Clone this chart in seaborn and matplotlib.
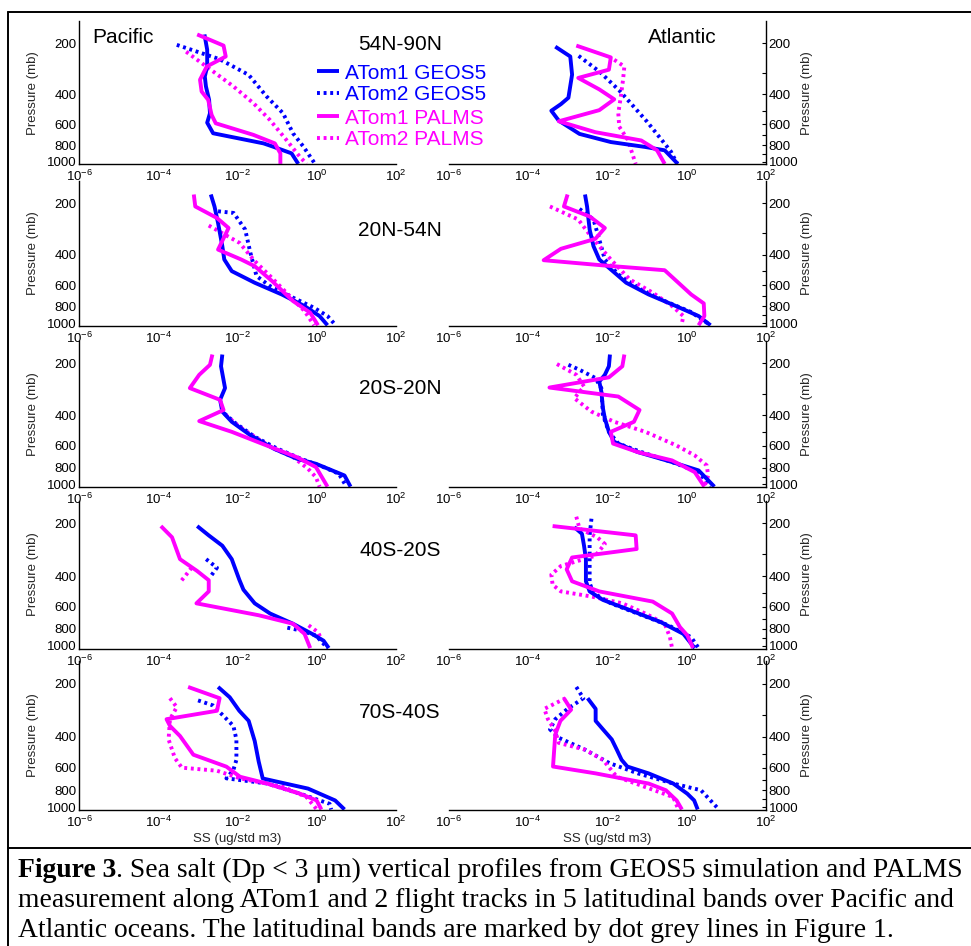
import numpy as np
import pandas as pd
import matplotlib
matplotlib.use("Agg")
import matplotlib.pyplot as plt
import seaborn as sns
from matplotlib.lines import Line2D
from matplotlib.ticker import (FixedLocator, FixedFormatter, NullLocator,
                               NullFormatter, LogFormatterSciNotation)

# ---------------- data ----------------
REGIONS = ["54N-90N", "20N-54N", "20S-20N", "40S-20S", "70S-40S"]
OCEANS = ["Pacific", "Atlantic"]
SERIES = ["ATom1 GEOS5", "ATom2 GEOS5", "ATom1 PALMS", "ATom2 PALMS"]
SERIES_COLORS = ["#0000FF", "#0000FF", "#FF00FF", "#FF00FF"]
SERIES_SOLID = [True, False, True, False]
XTICKS = [1e-6, 1e-4, 1e-2, 1e0, 1e2]
YTICKS = [200, 400, 600, 800, 1000]
YTICK_LABELS = ["200", "400", "600", "800", "1000"]
YMINOR = [300, 500, 700, 900]

# (pressure [mb], sea salt [ug/std m3]); None marks a gap in the profile
PAC_54N90N_A1G = [(178,1.45e-3),(219,1.7e-3),(275,1.7e-3),(315,1.48e-3),(360,1.58e-3),(432,1.9e-3),(518,2.0e-3),(589,1.7e-3),(680,2.4e-3),(780,4.5e-2),(816,7.9e-2),(893,0.23),(1030,0.34)]
PAC_54N90N_A2G = [(205,2.9e-4),(249,3.5e-3),(308,1.9e-2),(413,5.4e-2),(518,0.14),(680,0.25),(816,0.46),(1030,0.9)]
PAC_54N90N_A1P = [(178,9.5e-4),(207,4.4e-3),(240,5.0e-3),(275,1.66e-3),(329,1.12e-3),(386,1.23e-3),(432,1.8e-3),(530,2.2e-3),(594,2.8e-3),(695,2.5e-2),(780,8.7e-2),(893,0.12),(1030,0.12)]
PAC_54N90N_A2P = [(225,5.0e-4),(294,2.4e-3),(360,7.8e-3),(452,2.5e-2),(567,6.5e-2),(744,0.17),(934,0.37),(1030,0.55)]

ATL_54N90N_A1G = [(210,4.9e-4),(240,1.17e-3),(307,1.3e-3),(420,1.05e-3),(458,6.8e-4),(501,3.9e-4),(573,6.0e-4),(686,2.0e-3),(766,1.23e-2),(819,9.1e-2),(857,0.28),(1030,0.60)]
ATL_54N90N_A2G = [(238,1.9e-3),(294,6.3e-3),(380,2.0e-2),(470,4.5e-2),(580,0.10),(730,0.22),(870,0.40),(1030,0.58)]
ATL_54N90N_A1P = [(207,1.66e-3),(243,1.23e-2),(287,1.1e-2),(321,1.86e-3),(375,6.3e-3),(429,1.5e-2),(497,6.3e-3),(578,6.0e-4),(670,5.0e-3),(750,7.2e-2),(857,0.18),(1030,0.28)]
ATL_54N90N_A2P = [(251,1.5e-2),(275,2.7e-2),(329,2.5e-2),(413,2.2e-2),(518,1.9e-2),(621,2.0e-2),(744,3.3e-2),(1030,5.2e-2)]

PAC_20N54N_A1G = [(178,2.1e-3),(209,2.6e-3),(261,3.2e-3),(356,4.1e-3),(426,4.6e-3),(498,7.1e-3),(582,2.7e-2),(681,0.13),(796,0.49),(910,1.17),(1030,1.86)]
PAC_20N54N_A2G = [(223,3.2e-3),(228,7.9e-3),(285,1.55e-2),(390,2.1e-2),(532,3.0e-2),(609,6.6e-2),(711,0.25),(814,0.85),(910,1.86),(1030,3.0)]
PAC_20N54N_A1P = [(178,7.8e-4),(209,8.5e-4),(244,3.0e-3),(279,5.9e-3),(373,3.2e-3),(426,1.23e-2),(466,2.7e-2),(569,7.4e-2),(744,0.25),(870,0.68),(1030,1.07)]
PAC_20N54N_A2P = [(270,1.86e-3),(341,1.12e-2),(435,2.7e-2),(532,6.6e-2),(728,0.25),(851,0.49),(1030,0.85)]

ATL_20N54N_A1G = [(178,2.75e-3),(209,3.1e-3),(285,3.6e-3),(356,4.5e-3),(426,6.3e-3),(487,1.23e-2),(582,3.0e-2),(681,0.11),(796,0.54),(910,2.0),(1030,4.0)]
ATL_20N54N_A2G = [(216,2.0e-3),(249,4.5e-3),(326,6.3e-3),(426,8.7e-3),(521,1.9e-2),(637,7.2e-2),(744,0.28),(863,1.3),(1030,4.0)]
ATL_20N54N_A1P = [(178,1.0e-3),(209,8.1e-4),(239,3.6e-3),(279,8.7e-3),(323,5.0e-3),(369,6.8e-4),(430,2.5e-4),(462,8.7e-3),(492,0.28),(681,1.3),(768,2.7),(910,2.8),(1030,2.0)]
ATL_20N54N_A2P = [(209,3.6e-4),(249,1.86e-3),(305,3.6e-3),(356,6.3e-3),(426,1.23e-2),(557,3.7e-2),(665,0.14),(796,0.43),(910,0.83),(1030,0.74)]

PAC_20S20N_A1G = [(178,4.1e-3),(208,3.8e-3),(278,4.8e-3),(325,3.6e-3),(380,4.1e-3),(435,7.1e-3),(520,2.1e-2),(621,8.1e-2),(710,0.31),(760,0.95),(888,5.0),(1030,7.1)]
PAC_20S20N_A2G = [(389,4.6e-3),(444,8.9e-3),(531,2.7e-2),(621,0.10),(710,0.39),(794,1.48),(868,3.6),(1030,5.6)]
PAC_20S20N_A1P = [(178,2.3e-3),(204,2.0e-3),(233,1.07e-3),(278,6.2e-4),(325,3.6e-3),(372,4.4e-3),(431,1.07e-3),(497,7.1e-3),(594,5.2e-2),(695,0.31),(794,0.95),(1030,1.86)]
PAC_20S20N_A2P = [(397,5.0e-3),(465,1.1e-2),(531,2.7e-2),(621,8.1e-2),(695,0.25),(812,0.60),(908,0.95),(1030,1.17)]

ATL_20S20N_A1G = [(178,1.17e-2),(208,1.1e-2),(233,8.7e-3),(255,6.3e-3),(291,7.1e-3),(364,7.8e-3),(416,8.7e-3),(497,1.1e-2),(568,1.5e-2),(650,5.8e-2),(743,0.43),(830,2.0),(1030,5.0)]
ATL_20S20N_A2G = [(204,1.05e-3),(218,2.0e-3),(243,5.0e-3),(278,7.1e-3),(398,7.8e-3),(497,1.1e-2),(581,1.9e-2),(650,7.2e-2),(743,0.43),(849,2.0),(1030,4.0)]
ATL_20S20N_A1P = [(178,2.7e-2),(208,2.4e-2),(241,1.1e-2),(276,3.5e-4),(311,1.9e-2),(372,6.5e-2),(435,4.7e-2),(497,1.23e-2),(581,1.4e-2),(650,5.8e-2),(727,0.43),(849,1.6),(1030,2.8)]
ATL_20S20N_A2P = [(202,5.4e-4),(233,1.66e-3),(272,2.6e-3),(318,1.48e-3),(380,4.0e-3),(435,1.5e-2),(497,9.1e-2),(594,0.54),(680,1.6),(776,3.2),(888,3.5),(1030,2.8)]

PAC_40S20S_A1G = [(207,9.5e-4),(234,1.86e-3),(268,4.1e-3),(320,7.1e-3),(419,1.1e-2),(478,1.4e-2),(572,2.7e-2),(654,6.6e-2),(748,0.25),(855,0.76),(935,1.48),(1030,2.0)]
PAC_40S20S_A2G = [(320,1.6e-3),(358,3.0e-3),(400,2.1e-3),None,(788,0.18),(817,0.39),(874,0.95),(1030,1.86)]
PAC_40S20S_A1P = [(207,1.15e-4),(240,2.2e-4),(320,3.5e-4),(374,9.5e-4),(422,1.86e-3),(489,1.86e-3),(572,9.1e-4),(669,3.4e-2),(748,0.25),(855,0.49),(1030,0.68)]
PAC_40S20S_A2P = [(358,6.9e-4),(400,4.7e-4),(434,3.5e-4),None,(764,0.62),(836,1.07),(893,1.23)]

ATL_40S20S_A1G = [(210,1.48e-3),(229,2.3e-3),(268,2.6e-3),(320,2.9e-3),(428,2.9e-3),(489,3.6e-3),(547,7.8e-3),(625,3.7e-2),(731,0.22),(855,0.83),(1030,1.6)]
ATL_40S20S_A2G = [(188,4.0e-3),(234,3.6e-3),(320,3.6e-3),(438,3.6e-3),(500,4.5e-3),(572,1.23e-2),(654,5.8e-2),(764,0.35),(893,1.3),(1030,2.0)]
ATL_40S20S_A1P = [(207,4.2e-4),(234,5.2e-2),(280,5.5e-2),(313,1.3e-3),(366,9.5e-4),(428,1.3e-3),(489,6.3e-3),(559,0.14),(654,0.43),(782,0.68),(874,1.05),(1030,1.45)]
ATL_40S20S_A2P = [(183,1.66e-3),(214,2.0e-3),(240,5.6e-3),(262,8.7e-3),(306,5.0e-3),(350,6.8e-4),(392,3.9e-4),(448,4.2e-4),(489,6.8e-4),(523,4.0e-3),(572,2.4e-2),(654,9.1e-2),(748,0.28),(893,0.38),(1030,0.43)]

PAC_70S40S_A1G = [(209,3.2e-3),(239,6.3e-3),(285,1.1e-2),(325,1.9e-2),(423,2.7e-2),(552,3.4e-2),(688,4.3e-2),(735,0.16),(785,0.60),(916,2.9),(1030,5.0)]
PAC_70S40S_A2G = [(249,1.0e-3),(266,2.4e-3),(347,7.8e-3),(414,9.3e-3),(540,9.3e-3),(616,7.8e-3),(687,5.2e-3),(734,5.4e-2),(838,0.37),(957,2.1),(1030,2.3)]
PAC_70S40S_A1P = [(209,5.6e-4),(242,3.5e-3),(285,3.0e-3),(318,1.6e-4),(347,1.95e-4),(396,3.5e-4),(505,7.6e-4),(590,5.2e-3),(673,1.15e-2),(734,5.4e-2),(838,0.37),(916,0.99),(1030,1.3)]
PAC_70S40S_A2P = [(242,1.95e-4),(272,2.9e-4),(318,1.95e-4),(414,1.8e-4),(528,2.6e-4),(598,3.9e-4),(622,3.0e-3),(687,1.15e-2),(768,0.14),(877,0.55),(1030,1.0)]

ATL_70S40S_A1G = [(242,3.2e-3),(278,5.1e-3),(325,5.1e-3),(363,7.8e-3),(414,1.3e-2),(473,1.74e-2),(540,2.3e-2),(589,3.2e-2),(644,0.11),(735,0.46),(839,1.04),(916,1.55),(1030,1.9)]
ATL_70S40S_A2G = [(209,1.66e-3),(242,2.5e-3),(278,1.0e-3),(318,4.9e-4),(363,3.6e-4),(405,6.0e-4),(473,2.75e-3),(564,1.15e-2),(644,5.9e-2),(735,0.46),(802,2.3),(1030,6.5)]
ATL_70S40S_A1P = [(242,8.1e-4),(281,1.23e-3),(325,6.6e-4),(388,4.9e-4),(589,4.3e-4),(644,5.1e-3),(735,0.11),(802,0.30),(916,0.56),(1030,0.76)]
ATL_70S40S_A2P = [(242,8.9e-4),(278,2.6e-4),(318,3.2e-4),(371,4.9e-4),(433,6.0e-4),(473,2.75e-3),(540,7.8e-3),(673,1.74e-2),(768,8.9e-2),(877,0.46),(1030,0.62)]

PANELS = {
    ("54N-90N", "Pacific"):  [PAC_54N90N_A1G, PAC_54N90N_A2G, PAC_54N90N_A1P, PAC_54N90N_A2P],
    ("54N-90N", "Atlantic"): [ATL_54N90N_A1G, ATL_54N90N_A2G, ATL_54N90N_A1P, ATL_54N90N_A2P],
    ("20N-54N", "Pacific"):  [PAC_20N54N_A1G, PAC_20N54N_A2G, PAC_20N54N_A1P, PAC_20N54N_A2P],
    ("20N-54N", "Atlantic"): [ATL_20N54N_A1G, ATL_20N54N_A2G, ATL_20N54N_A1P, ATL_20N54N_A2P],
    ("20S-20N", "Pacific"):  [PAC_20S20N_A1G, PAC_20S20N_A2G, PAC_20S20N_A1P, PAC_20S20N_A2P],
    ("20S-20N", "Atlantic"): [ATL_20S20N_A1G, ATL_20S20N_A2G, ATL_20S20N_A1P, ATL_20S20N_A2P],
    ("40S-20S", "Pacific"):  [PAC_40S20S_A1G, PAC_40S20S_A2G, PAC_40S20S_A1P, PAC_40S20S_A2P],
    ("40S-20S", "Atlantic"): [ATL_40S20S_A1G, ATL_40S20S_A2G, ATL_40S20S_A1P, ATL_40S20S_A2P],
    ("70S-40S", "Pacific"):  [PAC_70S40S_A1G, PAC_70S40S_A2G, PAC_70S40S_A1P, PAC_70S40S_A2P],
    ("70S-40S", "Atlantic"): [ATL_70S40S_A1G, ATL_70S40S_A2G, ATL_70S40S_A1P, ATL_70S40S_A2P],
}

rows = []
for (reg, oc), lists in PANELS.items():
    for sname, pts in zip(SERIES, lists):
        seg = 0
        for pt in pts:
            if pt is None:
                seg += 1
                continue
            rows.append(dict(region=reg, ocean=oc, series=sname, seg=seg, p=pt[0], ss=pt[1]))
df = pd.DataFrame(rows)

# ---------------- style ----------------
sns.set_theme(style="white")
plt.rcParams['font.family'] = ['Liberation Sans', 'DejaVu Sans']
plt.rcParams['mathtext.fontset'] = 'custom'
plt.rcParams['mathtext.rm'] = 'Liberation Sans'
plt.rcParams['mathtext.it'] = 'Liberation Sans:italic'
plt.rcParams['mathtext.bf'] = 'Liberation Sans:bold'
plt.rcParams['axes.edgecolor'] = 'black'
plt.rcParams['text.color'] = 'black'
plt.rcParams['xtick.color'] = 'black'
plt.rcParams['ytick.color'] = 'black'

W, H = 971, 946
fig = plt.figure(figsize=(W / 100, H / 100), dpi=100)
fig.patch.set_facecolor('white')

COL_X = [(79.3, 396.0), (448.5, 766.0)]
DRAW_ORDER = [1, 3, 0, 2]
LW = 2.8
DOT = (0, (0.75, 0.95))
TICK_FS = 9.5

handles = {}
axes = {}
for r, reg in enumerate(REGIONS):
    top = 21 + r * 159.9
    bot = 164.3 + r * 161.4
    for c, oc in enumerate(OCEANS):
        x0, x1 = COL_X[c]
        ax = fig.add_axes([x0 / W, 1 - bot / H, (x1 - x0) / W, (bot - top) / H])
        ax.set_facecolor('none')
        axes[(r, c)] = ax
        sub = df[(df.region == reg) & (df.ocean == oc)]
        for si in DRAW_ORDER:
            sname = SERIES[si]
            ser = sub[sub.series == sname]
            for seg, g in ser.groupby('seg'):
                sns.lineplot(data=g, x='ss', y='p', ax=ax, sort=False, estimator=None,
                             color=SERIES_COLORS[si], linewidth=LW,
                             linestyle='-' if SERIES_SOLID[si] else DOT,
                             legend=False)
                line = ax.get_lines()[-1]
                line.set_solid_capstyle('butt')
                line.set_dash_capstyle('butt')
                if r == 0 and c == 0 and sname not in handles:
                    handles[sname] = line

        ax.set_xscale('log')
        ax.set_yscale('log')
        ax.set_xlim(1e-6, 1e2)
        ax.set_ylim(1036, 148.3)
        ax.xaxis.set_major_locator(FixedLocator(XTICKS))
        ax.xaxis.set_minor_locator(NullLocator())
        ax.xaxis.set_major_formatter(LogFormatterSciNotation())
        ax.yaxis.set_major_locator(FixedLocator(YTICKS))
        ax.yaxis.set_major_formatter(FixedFormatter(YTICK_LABELS))
        ax.yaxis.set_minor_locator(FixedLocator(YMINOR))
        ax.yaxis.set_minor_formatter(NullFormatter())
        if c == 1:
            ax.yaxis.tick_right()
            ax.yaxis.set_label_position('right')
        ax.tick_params(which='both', direction='in', length=3.2, width=0.8,
                       labelsize=TICK_FS, color='black')
        ax.tick_params(axis='x', pad=3.5)
        ax.tick_params(axis='y', pad=2)
        for sp in ax.spines.values():
            sp.set_linewidth(1.0)
            sp.set_color('black')
        ax.spines['top'].set_visible(False)
        if c == 0:
            ax.spines['right'].set_visible(False)
        else:
            ax.spines['left'].set_visible(False)
        ax.set_ylabel('Pressure (mb)', fontsize=TICK_FS)
        hpx = bot - top
        if c == 0:
            ax.yaxis.set_label_coords((39 - x0) / (x1 - x0), 0.5)
        else:
            ax.yaxis.set_label_coords((801 - x0) / (x1 - x0), 0.5)
        if r == len(REGIONS) - 1:
            ax.set_xlabel('SS (ug/std m3)', fontsize=TICK_FS)
            ax.xaxis.set_label_coords(0.5, -23 / hpx)
        else:
            ax.set_xlabel('')

# region labels and ocean titles
REGION_BASELINES = [50, 235.5, 394.5, 555.5, 717.5]
for reg, yb in zip(REGIONS, REGION_BASELINES):
    fig.text(400 / W, 1 - yb / H, reg, ha='center', va='baseline', fontsize=15)
fig.text(92 / W, 1 - 43 / H, OCEANS[0], ha='left', va='baseline', fontsize=15)
fig.text(648 / W, 1 - 43 / H, OCEANS[1], ha='left', va='baseline', fontsize=15)

# legend (two blocks)
ax0 = axes[(0, 0)]
leg_kw = dict(loc='upper left', bbox_transform=fig.transFigure, frameon=False,
              fontsize=15, handlelength=1.06, handletextpad=0.29, labelspacing=0.13,
              borderpad=0, borderaxespad=0, labelcolor='linecolor')
leg1 = ax0.legend([handles[SERIES[0]], handles[SERIES[1]]], SERIES[:2],
                  bbox_to_anchor=(317 / W, 1 - 63.6 / H), **leg_kw)
ax0.add_artist(leg1)
leg2 = ax0.legend([handles[SERIES[2]], handles[SERIES[3]]], SERIES[2:],
                  bbox_to_anchor=(317 / W, 1 - 108.6 / H), **leg_kw)

# frame lines
fig.add_artist(Line2D([8 / W, 1], [1 - 12.5 / H] * 2, transform=fig.transFigure, color='black', lw=1.4))
fig.add_artist(Line2D([8 / W, 8 / W], [0, 1 - 12.5 / H], transform=fig.transFigure, color='black', lw=1.4))
fig.add_artist(Line2D([8 / W, 1], [1 - 847.5 / H] * 2, transform=fig.transFigure, color='black', lw=1.4))

# caption
CAP_LINES = [
    [("Figure 3", 'bold'), (". Sea salt (Dp < 3 \u03bcm) vertical profiles from GEOS5 simulation and PALMS", 'normal')],
    [("measurement along ATom1 and 2 flight tracks in 5 latitudinal bands over Pacific and", 'normal')],
    [("Atlantic oceans. The latitudinal bands are marked by dot grey lines in Figure 1.", 'normal')],
]
CAP_BASELINES = [877, 907, 937]
CAP_X0 = 18
CAP_TARGET_W = 944
renderer = fig.canvas.get_renderer()

def place_line(parts, yb, fs):
    x = CAP_X0
    made = []
    for txt, wt in parts:
        t = fig.text(x / W, 1 - yb / H, txt, ha='left', va='baseline', fontsize=fs,
                     fontweight=wt, family=['Liberation Serif', 'DejaVu Serif'])
        bb = t.get_window_extent(renderer=renderer)
        x = bb.x1
        made.append(t)
    return made, x - CAP_X0

test, wdt = place_line(CAP_LINES[0], CAP_BASELINES[0], 18)
for t in test:
    t.remove()
cap_fs = 18 * CAP_TARGET_W / wdt
for parts, yb in zip(CAP_LINES, CAP_BASELINES):
    place_line(parts, yb, cap_fs)

fig.savefig('out.png', dpi=100, facecolor='white')
